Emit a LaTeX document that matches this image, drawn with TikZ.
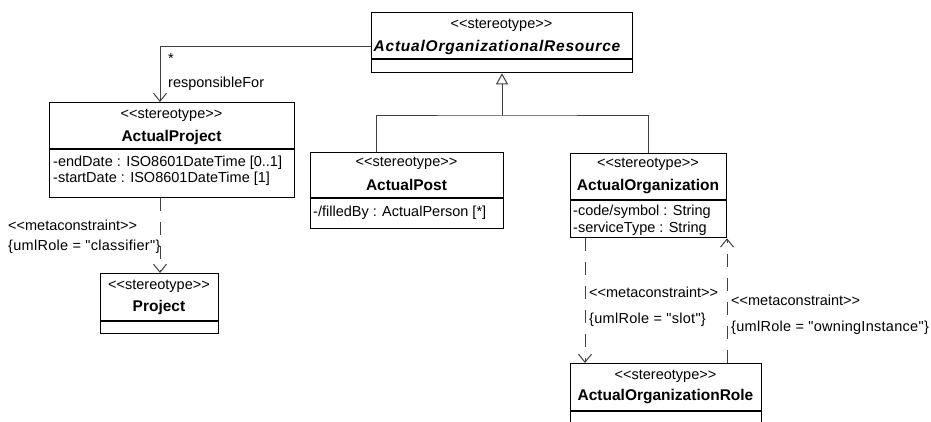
\documentclass[tikz,border=0pt]{standalone}
\usepackage{fontspec}
\newfontfamily\umlfont{Liberation Sans}
\newfontfamily\umlspaced{Liberation Sans}[LetterSpace=5]
\newfontfamily\umlcons{Liberation Sans}[LetterSpace=2]
\usetikzlibrary{arrows.meta}
\begin{document}
\begin{tikzpicture}[x=1pt,y=-1pt,
  classbox/.style={draw=black, line width=1.3pt, inner sep=0pt, anchor=north west},
  compline/.style={draw=black, line width=1.3pt},
  stereo/.style={font=\umlfont\fontsize{14.5}{16}\selectfont, inner sep=0pt},
  cname/.style={font=\umlfont\bfseries\fontsize{15.5}{17}\selectfont, inner sep=0pt},
  cnameit/.style={font=\umlspaced\bfseries\itshape\fontsize{15.5}{17}\selectfont, inner sep=0pt},
  attr/.style={font=\umlfont\fontsize{14.5}{16}\selectfont, inner sep=0pt, anchor=west},
  lbl/.style={font=\umlfont\fontsize{14.5}{16}\selectfont, inner sep=0pt, anchor=west},
  cons/.style={font=\umlcons\fontsize{14.5}{16}\selectfont, inner sep=0pt, anchor=west},
  conn/.style={draw=black!75, line width=1pt},
  dep/.style={conn, dash pattern=on 13pt off 11pt},
  barb/.style={-{Straight Barb[length=8pt,width=13pt,line width=1pt]}},
  gen/.style={-{Triangle[open,length=11pt,width=12pt,line width=1pt]}}
]
\clip (0,0) rectangle (931,422);
\fill[white] (0,0) rectangle (931,422);

% ActualOrganizationalResource
\node[classbox, minimum width=261pt, minimum height=60pt] (aor) at (371,12) {};
\draw[compline] (371,59) -- (632,59);
\node[stereo] (aorst) at (501.5,25) {<<stereotype>>};
\node[cnameit] (aornm) at (497,47) {ActualOrganizationalResource};

% ActualProject
\node[classbox, minimum width=245pt, minimum height=95pt] (ap) at (49,102) {};
\draw[compline] (49,149) -- (294,149);
\node[stereo] (apst) at (171.5,115) {<<stereotype>>};
\node[cname] (apnm) at (171.5,137) {ActualProject};
\node[attr] (apa1) at (53,163) {-endDate : ISO8601DateTime [0..1]};
\node[attr] (apa2) at (53,179) {-startDate : ISO8601DateTime [1]};

% Project
\node[classbox, minimum width=118pt, minimum height=60pt] (proj) at (100,273) {};
\draw[compline] (100,321) -- (218,321);
\node[stereo] (projst) at (159,286) {<<stereotype>>};
\node[cname] (projnm) at (159,307) {Project};

% ActualPost
\node[classbox, minimum width=193pt, minimum height=76pt] (post) at (310,152) {};
\draw[compline] (310,198) -- (503,198);
\node[stereo] (postst) at (406.5,163) {<<stereotype>>};
\node[cname] (postnm) at (406.5,185) {ActualPost};
\node[attr] (posta1) at (313,213) {-/filledBy : ActualPerson [*]};

% ActualOrganization
\node[classbox, minimum width=156pt, minimum height=84pt] (org) at (570,153) {};
\draw[compline] (570,200) -- (726,200);
\node[stereo] (orgst) at (648,164) {<<stereotype>>};
\node[cname] (orgnm) at (648,187) {ActualOrganization};
\node[attr] (orga1) at (573,212) {-code/symbol : String};
\node[attr] (orga2) at (573,229) {-serviceType : String};

% ActualOrganizationRole
\node[classbox, minimum width=191pt, minimum height=80pt] (role) at (570,363) {};
\draw[compline] (570,411) -- (761,411);
\node[stereo] (rolest) at (665.5,376) {<<stereotype>>};
\node[cname] (rolenm) at (665.5,397) {ActualOrganizationRole};

% generalization
\coordinate (gj) at (502,116);
\coordinate (gpost) at (376,152);
\coordinate (gorg) at (648,153);
\draw[conn] (gpost) |- (gj) -| (gorg);
\draw[conn, gen] (gj) -- (aor.south -| gj);

% association responsibleFor
\coordinate (apin) at (160,102);
\draw[conn, barb] (aor.west |- aornm) -| (apin);
\node[lbl] (mult) at (168,59) {*};
\node[lbl] (resp) at (168,84) {responsibleFor};

% metaconstraint classifier
\draw[dep, barb] (ap.south -| apin) -- (proj.north -| apin);
\node[lbl] (mc1) at (8,225) {<<metaconstraint>>};
\node[cons] (mc1r) at (8,247) {\{umlRole = "classifier"\}};

% metaconstraint slot
\coordinate (slx) at (585,300);
\draw[dep, barb] (org.south -| slx) -- (role.north -| slx);
\node[lbl] (mc2) at (589,292) {<<metaconstraint>>};
\node[cons] (mc2r) at (589,320) {\{umlRole = "slot"\}};

% metaconstraint owningInstance
\coordinate (owx) at (727,300);
\draw[dep, barb] (role.north -| owx) -- (org.south -| owx);
\node[lbl] (mc3) at (731,300) {<<metaconstraint>>};
\node[cons] (mc3r) at (731,328) {\{umlRole = "owningInstance"\}};
\end{tikzpicture}
\end{document}
